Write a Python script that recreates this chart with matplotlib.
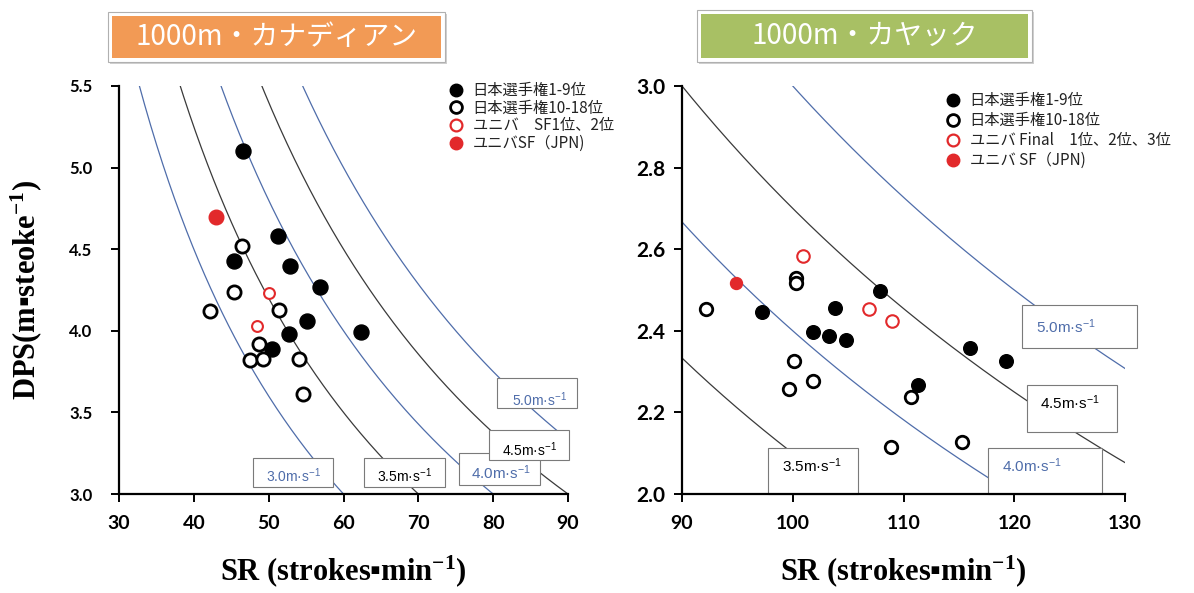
import numpy as np
import matplotlib
matplotlib.use('Agg')
import matplotlib.pyplot as plt
from matplotlib.patches import Rectangle
from matplotlib.lines import Line2D

plt.rcParams['mathtext.default'] = 'regular'
JP = ['Noto Sans CJK JP', 'DejaVu Sans']

# ---- canadian 1000m (left) ----
can_top_sr = [46.6, 51.2, 45.4, 52.8, 56.9, 62.4, 55.1, 52.7, 50.5]
can_top_dps = [5.10, 4.58, 4.43, 4.40, 4.27, 3.99, 4.06, 3.98, 3.89]
can_mid_sr = [46.4, 45.4, 42.2, 51.4, 48.7, 47.5, 49.3, 54.1, 54.6]
can_mid_dps = [4.52, 4.24, 4.12, 4.13, 3.92, 3.82, 3.83, 3.83, 3.61]
can_uni_sr = [50.0, 48.5]
can_uni_dps = [4.23, 4.03]
can_jpn_sr = [43.0]
can_jpn_dps = [4.70]
can_speeds = [3.0, 3.5, 4.0, 4.5, 5.0]
can_labels = ['日本選手権1-9位', '日本選手権10-18位', 'ユニバ　SF1位、2位', 'ユニバSF（JPN)']

# ---- kayak 1000m (right) ----
kay_top_sr = [97.2, 103.8, 107.9, 101.8, 103.3, 104.8, 111.3, 116.0, 119.3]
kay_top_dps = [2.447, 2.455, 2.498, 2.396, 2.387, 2.377, 2.267, 2.357, 2.326]
kay_mid_sr = [92.2, 100.3, 100.3, 100.1, 101.8, 99.7, 110.7, 108.9, 115.3]
kay_mid_dps = [2.453, 2.529, 2.516, 2.326, 2.277, 2.257, 2.237, 2.116, 2.127]
kay_uni_sr = [100.9, 106.9, 109.0]
kay_uni_dps = [2.583, 2.453, 2.424]
kay_jpn_sr = [94.9]
kay_jpn_dps = [2.516]
kay_speeds = [3.5, 4.0, 4.5, 5.0]
kay_labels = ['日本選手権1-9位', '日本選手権10-18位', 'ユニバ Final　1位、2位、3位', 'ユニバ SF（JPN)']

BLUE = '#4F6DAA'
DARK = '#3A3A3A'
RED = '#E2292B'

W, H = 1194, 593
fig = plt.figure(figsize=(W / 100, H / 100), dpi=100)


def px_axes(x0, y0, x1, y1):
    return fig.add_axes([x0 / W, 1 - y1 / H, (x1 - x0) / W, (y1 - y0) / H])


def title_box(x0, y0, x1, y1, color, text):
    fig.add_artist(Rectangle(((x0 + 2) / W, 1 - (y1 + 2) / H), (x1 - x0) / W, (y1 - y0) / H,
                             transform=fig.transFigure, facecolor='#D0D0D0', edgecolor='none'))
    fig.add_artist(Rectangle((x0 / W, 1 - y1 / H), (x1 - x0) / W, (y1 - y0) / H,
                             transform=fig.transFigure, facecolor='white', edgecolor='#B0B0B0', lw=0.8))
    fig.add_artist(Rectangle(((x0 + 4) / W, 1 - (y1 - 4) / H), (x1 - x0 - 8) / W, (y1 - y0 - 8) / H,
                             transform=fig.transFigure, facecolor=color, edgecolor='none'))
    fig.text((x0 + x1) / 2 / W, 1 - (y0 + y1) / 2 / H, text, color='white', fontsize=20,
             family=JP, ha='center', va='center')


def draw_points(ax, data, sizes):
    (ts, td), (ms, md), (us, ud), (js, jd) = data
    ax.plot(ts, td, 'o', ms=sizes[0], mfc='black', mec='black', zorder=4)
    ax.plot(ms, md, 'o', ms=sizes[1], mfc='white', mec='black', mew=2.0, zorder=4)
    ax.plot(us, ud, 'o', ms=sizes[2], mfc='white', mec=RED, mew=1.5, zorder=4)
    ax.plot(js, jd, 'o', ms=sizes[3], mfc=RED, mec=RED, zorder=4)


def speed_curves(ax, speeds):
    sr = np.linspace(20, 140, 600)
    for v in speeds:
        color = BLUE if v in (3.0, 4.0, 5.0) else DARK
        ax.plot(sr, v * 60 / sr, color=color, lw=0.9, zorder=1)


def speed_label(ax, v, box, txt, fs):
    color = BLUE if v in (3.0, 4.0, 5.0) else 'black'
    x0, y0, w, h = box
    ax.add_patch(Rectangle((x0, y0), w, h, facecolor='white', edgecolor='#7A7A7A', lw=0.8,
                           zorder=2, clip_on=False))
    ax.text(txt[0], txt[1], f'{v:.1f}m·s$^{{-1}}$', color=color, fontsize=fs, family='Liberation Sans',
            ha='left', va='center', zorder=3, clip_on=False)


def style_axes(ax, xlim, xticks, ylim, yticks, ysize, ypad):
    ax.set_xlim(*xlim)
    ax.set_ylim(*ylim)
    for s in ['top', 'right']:
        ax.spines[s].set_visible(False)
    for s in ['left', 'bottom']:
        ax.spines[s].set_linewidth(1.6)
    ax.set_xticks(xticks, labels=[f'{t}' for t in xticks], fontsize=14, fontweight='bold', family='Lato')
    ax.set_yticks(yticks, labels=[f'{t:.1f}' for t in yticks], fontsize=ysize, fontweight='bold',
                  family='Lato')
    ax.tick_params(axis='x', direction='out', length=6, width=1.4, pad=9)
    ax.tick_params(axis='y', direction='out', length=6, width=1.4, pad=ypad)
    ax.set_xlabel('SR (strokes▪min$^{-1}$)', fontsize=22, fontweight='bold', family='Liberation Serif',
                  va='center')
    ax.xaxis.set_label_coords(0.5, -0.19)


def legend(ax, labels, anchor, spacing):
    handles = [
        Line2D([], [], ls='none', marker='o', ms=9, mfc='black', mec='black'),
        Line2D([], [], ls='none', marker='o', ms=8.5, mfc='white', mec='black', mew=2.0),
        Line2D([], [], ls='none', marker='o', ms=8.5, mfc='white', mec=RED, mew=1.6),
        Line2D([], [], ls='none', marker='o', ms=9, mfc=RED, mec=RED),
    ]
    ax.legend(handles, labels, loc='upper left', bbox_to_anchor=anchor, bbox_transform=ax.transAxes,
              frameon=False, borderpad=0, borderaxespad=0, handlelength=1.0, handletextpad=0.6,
              labelspacing=spacing, prop={'family': JP, 'size': 11}, labelcolor='#222222')


# left chart
ax1 = px_axes(119, 86, 568, 494)
speed_curves(ax1, can_speeds)
draw_points(ax1, [(can_top_sr, can_top_dps), (can_mid_sr, can_mid_dps),
                  (can_uni_sr, can_uni_dps), (can_jpn_sr, can_jpn_dps)], [10.8, 9.5, 7.8, 10.5])
style_axes(ax1, (30, 90), [30, 40, 50, 60, 70, 80, 90], (3.0, 5.5), [3.0, 3.5, 4.0, 4.5, 5.0, 5.5], 12, 13)
ax1.set_ylabel('DPS(m▪steoke$^{-1}$)', fontsize=22, fontweight='bold', family='Liberation Serif',
               va='center')
ax1.yaxis.set_label_coords(-0.207, 0.5)
speed_label(ax1, 3.0, (47.9, 3.045, 10.7, 0.175), (49.6, 3.11), 10)
speed_label(ax1, 3.5, (62.8, 3.045, 10.7, 0.175), (64.5, 3.11), 10)
speed_label(ax1, 4.0, (75.5, 3.055, 10.7, 0.195), (77.0, 3.13), 11)
speed_label(ax1, 4.5, (79.5, 3.21, 10.7, 0.18), (81.2, 3.27), 10)
speed_label(ax1, 5.0, (80.5, 3.53, 10.7, 0.18), (82.5, 3.58), 10)
legend(ax1, can_labels, (0.733, 1.01), 0.05)

# right chart
ax2 = px_axes(682, 86, 1125, 494)
speed_curves(ax2, kay_speeds)
draw_points(ax2, [(kay_top_sr, kay_top_dps), (kay_mid_sr, kay_mid_dps),
                  (kay_uni_sr, kay_uni_dps), (kay_jpn_sr, kay_jpn_dps)], [9.8, 9.0, 9.0, 8.6])
style_axes(ax2, (90, 130), [90, 100, 110, 120, 130], (2.0, 3.0), [2.0, 2.2, 2.4, 2.6, 2.8, 3.0], 15, 6)
speed_label(ax2, 5.0, (120.7, 2.358, 10.4, 0.105), (122.0, 2.41), 11)
speed_label(ax2, 4.5, (121.15, 2.152, 8.1, 0.115), (122.3, 2.223), 11)
speed_label(ax2, 3.5, (97.8, 2.0, 8.1, 0.113), (99.0, 2.07), 11)
speed_label(ax2, 4.0, (117.6, 2.0, 10.3, 0.113), (118.9, 2.07), 11)
legend(ax2, kay_labels, (0.594, 0.985), 0.2)

title_box(108, 12, 445, 62, '#F29A55', '1000m・カナディアン')
title_box(697, 10, 1032, 62, '#A8C064', '1000m・カヤック')

fig.savefig('out.png', dpi=100)
